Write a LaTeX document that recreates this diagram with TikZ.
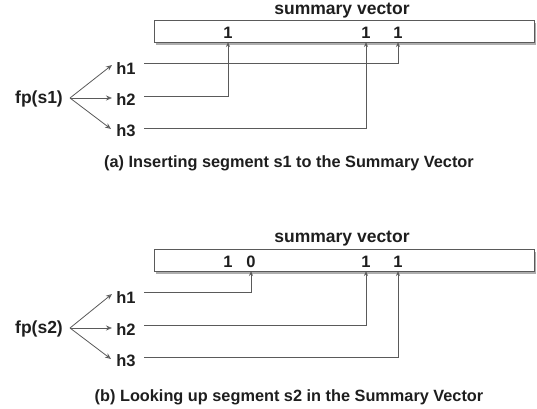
\documentclass[tikz,border=0pt]{standalone}
\usepackage{fontspec}
\setmainfont{Liberation Sans}
\usetikzlibrary{arrows.meta,shadows}
\definecolor{txt}{HTML}{1E1E1E}
\definecolor{ln}{HTML}{5A5A5A}
\tikzset{
  lbl/.style={font=\bfseries\fontsize{16.5}{18}\selectfont, text=txt, inner sep=0pt},
  vtitle/.style={font=\bfseries\fontsize{17.5}{19}\selectfont, text=txt, inner sep=0pt},
  bit/.style={font=\bfseries\fontsize{16.5}{18}\selectfont, text=txt, inner sep=0pt, anchor=base},
  fpl/.style={font=\bfseries\fontsize{17.5}{19}\selectfont, text=txt, inner sep=0pt},
  captext/.style={font=\bfseries\fontsize{16.3}{18}\selectfont, text=txt, inner sep=0pt},
  vec/.style={draw=ln, line width=1pt, fill=white, drop shadow={shadow xshift=1.5pt, shadow yshift=-2.5pt, opacity=0.45, fill=black!70}},
  conn/.style={draw=ln, line width=0.8pt, -{Stealth[open, length=5pt, width=4pt]}},
  fan/.style={draw=ln, line width=0.8pt, -{Stealth[open, length=6pt, width=5pt]}}
}
\begin{document}
\begin{tikzpicture}[x=1pt,y=-1pt]
\useasboundingbox (0,0) rectangle (537,408);
% ---------- panel (a) ----------
\node[vtitle] (ta) at (342,11) {summary vector};
\path[vec] (154,20) rectangle (534,42);
\coordinate (ba1) at (228,42);
\coordinate (ba2) at (366,42);
\coordinate (ba3) at (398,42);
\node[bit] (va1) at (228,38) {1};
\node[bit] (va2) at (366,38) {1};
\node[bit] (va3) at (398,38) {1};
\node[fpl] (fpa) at (39,99) {fp(s1)};
\node[lbl] (ha1) at (126,69) {h1};
\node[lbl] (ha2) at (126,100) {h2};
\node[lbl] (ha3) at (126,131) {h3};
\coordinate (oa) at (70,98);
\draw[fan] (oa) -- (112,65);
\draw[fan] (oa) -- (112,98);
\draw[fan] (oa) -- (111,129);
\draw[conn] (144,63) -| (ba3);
\draw[conn] (144,96) -| (ba1);
\draw[conn] (144,128) -| (ba2);
\node[captext] (capa) at (289,163) {(a) Inserting segment s1 to the Summary Vector};
% ---------- panel (b) ----------
\node[vtitle] (tb) at (342,239) {summary vector};
\path[vec] (154,249) rectangle (534,271);
\coordinate (bb1) at (251,271);
\coordinate (bb2) at (366,271);
\coordinate (bb3) at (398,271);
\node[bit] (vb0) at (228,267) {1};
\node[bit] (vb1) at (251,267) {0};
\node[bit] (vb2) at (366,267) {1};
\node[bit] (vb3) at (398,267) {1};
\node[fpl] (fpb) at (39,329) {fp(s2)};
\node[lbl] (hb1) at (126,298) {h1};
\node[lbl] (hb2) at (126,330) {h2};
\node[lbl] (hb3) at (126,361) {h3};
\coordinate (ob) at (70,328);
\draw[fan] (ob) -- (112,294);
\draw[fan] (ob) -- (112,328);
\draw[fan] (ob) -- (111,359);
\draw[conn] (144,292) -| (bb1);
\draw[conn] (144,325) -| (bb2);
\draw[conn] (144,357) -| (bb3);
\node[captext] (capb) at (289,397) {(b) Looking up segment s2 in the Summary Vector};
\end{tikzpicture}
\end{document}
